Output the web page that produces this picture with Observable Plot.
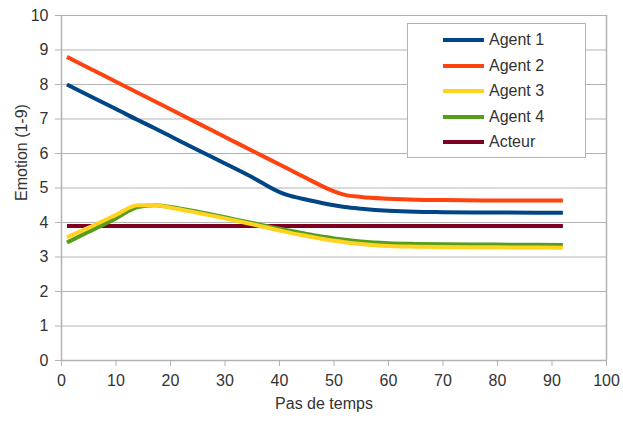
<!DOCTYPE html>
<html>
<head>
<meta charset="utf-8">
<script src="https://cdn.jsdelivr.net/npm/d3@7"></script>
<script src="https://cdn.jsdelivr.net/npm/@observablehq/plot@0.6"></script>
<style>
  html, body { margin: 0; padding: 0; background: #fff; }
  #chart { position: relative; width: 623px; height: 421px; font-family: "Liberation Sans", Arial, sans-serif; }
  #legend { position: absolute; left: 407px; top: 23px; width: 177px; height: 133px;
            border: 1px solid #b3b3b3; background: #fff; box-sizing: content-box; }
  .item { position: absolute; left: 0; height: 20px; }
  .swatch { position: absolute; left: 35px; width: 41px; height: 4px; }
  .lab { position: absolute; left: 81px; font-size: 16px; color: #333; white-space: nowrap; line-height: 20px; }
</style>
</head>
<body>
<div id="chart"><div id="legend"></div></div>
<script>
// Simulation steps at which each emotion value is sampled
const steps = [1, 5, 10, 14, 17, 20, 25, 30, 35, 40, 42, 45, 48, 50, 52, 55, 60, 65, 70, 80, 92];

const agent1 = [8.00, 7.68, 7.29, 6.97, 6.74, 6.50, 6.10, 5.71, 5.31, 4.88, 4.77, 4.66, 4.56, 4.50, 4.45, 4.40, 4.34, 4.31, 4.30, 4.29, 4.28];
const agent2 = [8.80, 8.48, 8.08, 7.76, 7.52, 7.28, 6.88, 6.48, 6.08, 5.68, 5.52, 5.28, 5.04, 4.90, 4.80, 4.74, 4.69, 4.66, 4.65, 4.64, 4.64];
const agent3 = [3.57, 3.85, 4.22, 4.50, 4.50, 4.43, 4.28, 4.12, 3.95, 3.77, 3.70, 3.61, 3.52, 3.47, 3.43, 3.38, 3.32, 3.30, 3.29, 3.28, 3.27];
const agent4 = [3.42, 3.73, 4.12, 4.45, 4.50, 4.45, 4.31, 4.15, 3.99, 3.82, 3.76, 3.67, 3.59, 3.54, 3.50, 3.45, 3.40, 3.38, 3.37, 3.36, 3.35];
const acteur = [3.90, 3.90, 3.90, 3.90, 3.90, 3.90, 3.90, 3.90, 3.90, 3.90, 3.90, 3.90, 3.90, 3.90, 3.90, 3.90, 3.90, 3.90, 3.90, 3.90, 3.90];

const seriesNames = ["Agent 1", "Agent 2", "Agent 3", "Agent 4", "Acteur"];
const seriesColors = ["#004586", "#ff420e", "#ffd320", "#579d1c", "#7e0021"];
const seriesValues = [agent1, agent2, agent3, agent4, acteur];

const xTicks = [0, 10, 20, 30, 40, 50, 60, 70, 80, 90, 100];
const yTicks = [0, 1, 2, 3, 4, 5, 6, 7, 8, 9, 10];
const xTitle = "Pas de temps";
const yTitle = "Emotion (1-9)";

// Long table, drawn so that the actor line sits underneath the agents
const drawOrder = ["Acteur", "Agent 4", "Agent 3", "Agent 1", "Agent 2"];
const rows = drawOrder.flatMap(name => {
  const vals = seriesValues[seriesNames.indexOf(name)];
  return steps.map((s, i) => ({series: name, step: s, value: vals[i]}));
});

const axisColor = "#b3b3b3";

const chart = Plot.plot({
  width: 623,
  height: 421,
  marginLeft: 61,
  marginRight: 17,
  marginTop: 15,
  marginBottom: 61,
  style: {fontFamily: "Liberation Sans, Arial, sans-serif", background: "#fff", color: "#333"},
  x: {domain: [0, 100]},
  y: {domain: [0, 10]},
  color: {domain: seriesNames, range: seriesColors},
  marks: [
    Plot.gridY(yTicks, {stroke: axisColor, strokeOpacity: 1, strokeWidth: 1}),
    Plot.ruleX([0, 100], {stroke: axisColor, strokeWidth: 1.5}),
    Plot.ruleY([0], {stroke: axisColor, strokeWidth: 1.5}),
    Plot.axisY(yTicks, {tickSize: 6, tickPadding: 7, stroke: axisColor, fontSize: 16, fill: "#333", label: null}),
    Plot.axisX(xTicks, {tickSize: 6, tickPadding: 8, stroke: axisColor, fontSize: 16, fill: "#333", label: null}),
    Plot.text([yTitle], {frameAnchor: "left", rotate: -90, dx: -40, dy: 13, fontSize: 16, fill: "#333"}),
    Plot.text([xTitle], {frameAnchor: "bottom", dx: -10, dy: 48, fontSize: 16, fill: "#333"}),
    Plot.line(rows, {
      x: "step", y: "value", z: "series", stroke: "series",
      strokeWidth: 4, curve: "monotone-x", strokeLinejoin: "round", strokeLinecap: "butt"
    })
  ]
});

const root = document.getElementById("chart");
root.insertBefore(chart, root.firstChild);

// Legend box inside the plot area
const legend = d3.select("#legend");
seriesNames.forEach((name, i) => {
  const item = legend.append("div").attr("class", "item").style("top", (6 + i * 25.6) + "px").style("width", "100%");
  item.append("div").attr("class", "swatch").style("background", seriesColors[i]).style("top", "8px");
  item.append("div").attr("class", "lab").text(name);
});
</script>
</body>
</html>
